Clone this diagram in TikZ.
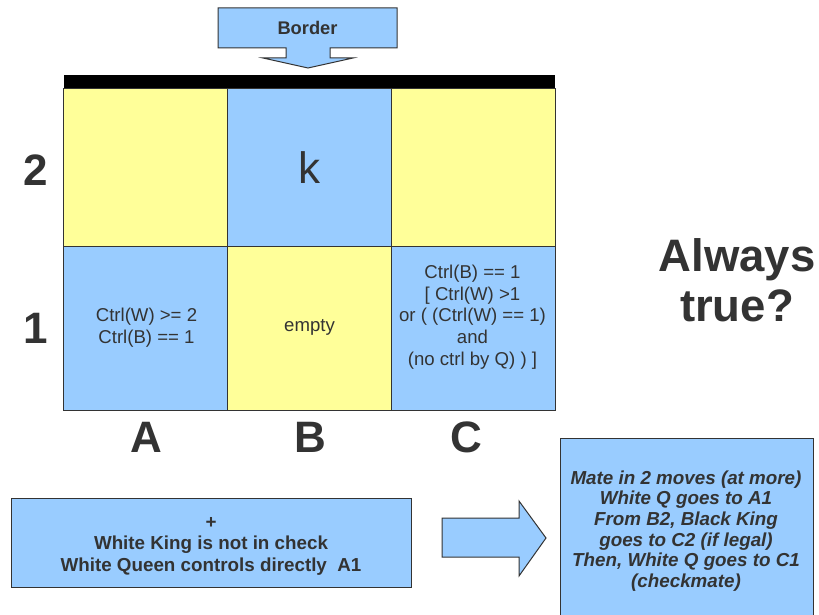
\documentclass[tikz,border=0pt]{standalone}
\usepackage{fontspec}
\setmainfont{Liberation Sans}
\definecolor{cellyellow}{HTML}{FFFF99}
\definecolor{cellblue}{HTML}{99CCFF}
\definecolor{ink}{HTML}{333333}
\begin{document}
\begin{tikzpicture}[x=1pt,y=-1pt,
  outline/.style={draw=ink,line width=1pt},
  cell/.style={outline,minimum width=163.67pt,inner sep=0pt,outer sep=0pt},
  body/.style={text=ink,align=center,font=\fontsize{18.6}{21.8}\selectfont},
  boldbody/.style={text=ink,align=center,font=\bfseries\fontsize{18.8}{21.5}\selectfont},
  coord/.style={text=ink,font=\bfseries\fontsize{44}{48}\selectfont},
  panel/.style={outline,fill=cellblue,inner sep=0pt}]
\useasboundingbox (0,0) rectangle (819,615);
\clip (0,0) rectangle (819,615);

% callout arrow pointing at the board edge
\draw[outline,fill=cellblue] (218,8) -- (397,8) -- (397,48) -- (330,48) -- (330,58)
  -- (353,58) -- (308,68) -- (263,58) -- (286,58) -- (286,48) -- (218,48) -- cycle;
\node[text=ink,font=\bfseries\fontsize{18.3}{21}\selectfont] (border) at (307.5,28) {Border};

% top rank: the board edge
\fill[black] (64,75) rectangle (555,89);

% board squares
\node[cell,fill=cellyellow,minimum height=157pt] (a2) at (145.83,167.5) {};
\node[cell,fill=cellblue,minimum height=157pt] (b2) at (309.5,167.5) {};
\node[cell,fill=cellyellow,minimum height=157pt] (c2) at (473.17,167.5) {};
\node[cell,fill=cellblue,minimum height=164pt] (a1) at (145.83,328) {};
\node[cell,fill=cellyellow,minimum height=164pt] (b1) at (309.5,328) {};
\node[cell,fill=cellblue,minimum height=164pt] (c1) at (473.17,328) {};

% square contents
\node[text=ink,font=\fontsize{44}{48}\selectfont] (king) at (b2.center) {k};
\node[body] (a1txt) at (146.5,328) {Ctrl(W) >= 2\\Ctrl(B) == 1};
\node[body] (b1txt) at (309.5,327) {empty};
\node[body] (c1txt) at (472.5,317) {Ctrl(B) == 1\\{}[ Ctrl(W) >1\\or ( (Ctrl(W) == 1)\\and\\(no ctrl by Q) ) ]};

% rank and file labels
\node[coord] (r2) at (36,170) {2};
\node[coord] (r1) at (36,328) {1};
\node[coord] (fa) at (146,437) {A};
\node[coord] (fb) at (310,437) {B};
\node[coord] (fc) at (466,437) {C};

% question
\node[text=ink,align=center,font=\bfseries\fontsize{45.5}{50}\selectfont] (question) at (737,280) {Always\\true?};

% extra conditions
\node[panel,minimum width=400pt,minimum height=89pt] (cond) at (211,542.5) {};
\node[boldbody] (condtxt) at (211,546) {+\\White King is not in check\\White Queen controls directly~~A1};

% block arrow to the result
\draw[outline,fill=cellblue] (442,518) -- (519,518) -- (519,501) -- (546,538)
  -- (519,576) -- (519,557) -- (442,557) -- cycle;

% result
\draw[panel] (560,438) rectangle (813,630);
\node[text=ink,align=center,font=\bfseries\itshape\fontsize{18.8}{20.6}\selectfont] (mate) at (686,531)
  {Mate in 2 moves (at more)\\White Q goes to A1\\From B2, Black King\\goes to C2 (if legal)\\Then, White Q goes to C1\\(checkmate)};
\end{tikzpicture}
\end{document}
